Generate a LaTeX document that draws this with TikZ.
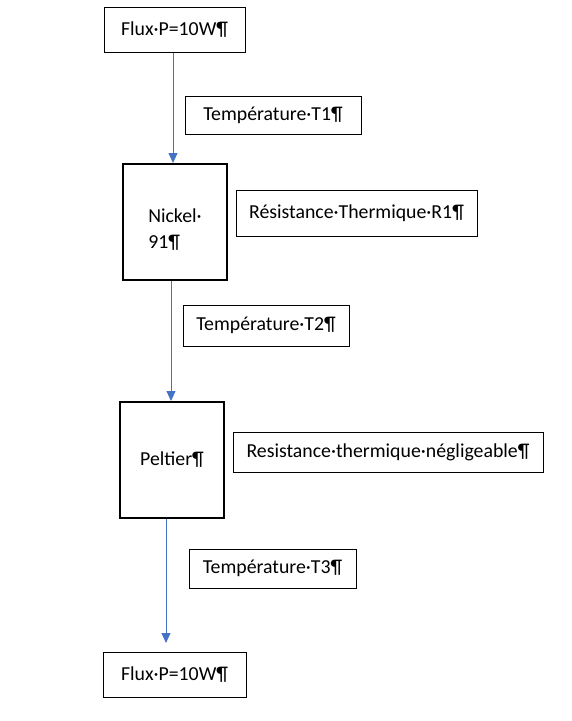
\documentclass[tikz,border=0pt]{standalone}
\usepackage{fontspec}
\setmainfont{Carlito}
\usetikzlibrary{arrows.meta}
\definecolor{arrowblue}{HTML}{4472C4}

\tikzset{
  box/.style={draw,line width=1pt,inner sep=0pt,font=\fontsize{19.8}{26}\selectfont},
  bigbox/.style={box,line width=2pt,minimum width=104pt,minimum height=116pt,align=left},
  flow/.style={arrowblue,line width=0.8pt,-{Triangle[width=9pt,length=10pt]}}
}

\begin{document}
\begin{tikzpicture}[x=1pt,y=-1pt]
    \useasboundingbox (0,0) rectangle (571,721);
    % main column
    \node[box,minimum width=141pt,minimum height=45pt] (fluxin) at (174.5,29.5) {Flux·P=10W¶};
    \node[bigbox] (nickel) at (175,222) {\raisebox{-13pt}[0pt][0pt]{\begin{tabular}{@{}l@{}}Nickel·\\91¶\end{tabular}}};
    \node[bigbox] (peltier) at (172,460) {Peltier¶};
    \node[box,minimum width=143pt,minimum height=45pt] (fluxout) at (174.5,674.5) {Flux·P=10W¶};
    % labels on the right
    \node[box,minimum width=176pt,minimum height=38pt] (tempA) at (273,115) {Température·T1¶};
    \node[box,minimum width=241pt,minimum height=46pt] (resA) at (356.5,213) {Résistance·Thermique·R1¶};
    \node[box,minimum width=166pt,minimum height=41pt] (tempB) at (266,325.5) {Température·T2¶};
    \node[box,minimum width=310pt,minimum height=40pt] (resB) at (388,452) {Resistance·thermique·négligeable¶};
    \node[box,minimum width=167pt,minimum height=39pt] (tempC) at (272.5,568.5) {Température·T3¶};
    % heat flow
    \draw[flow] (fluxin.south -| 173,0) -- (nickel.north -| 173,0);
    \draw[flow] (nickel.south -| 171,0) -- (peltier.north -| 171,0);
    \draw[flow] (peltier.south -| 166,0) -- (166,643);
  \end{tikzpicture}
\end{document}
